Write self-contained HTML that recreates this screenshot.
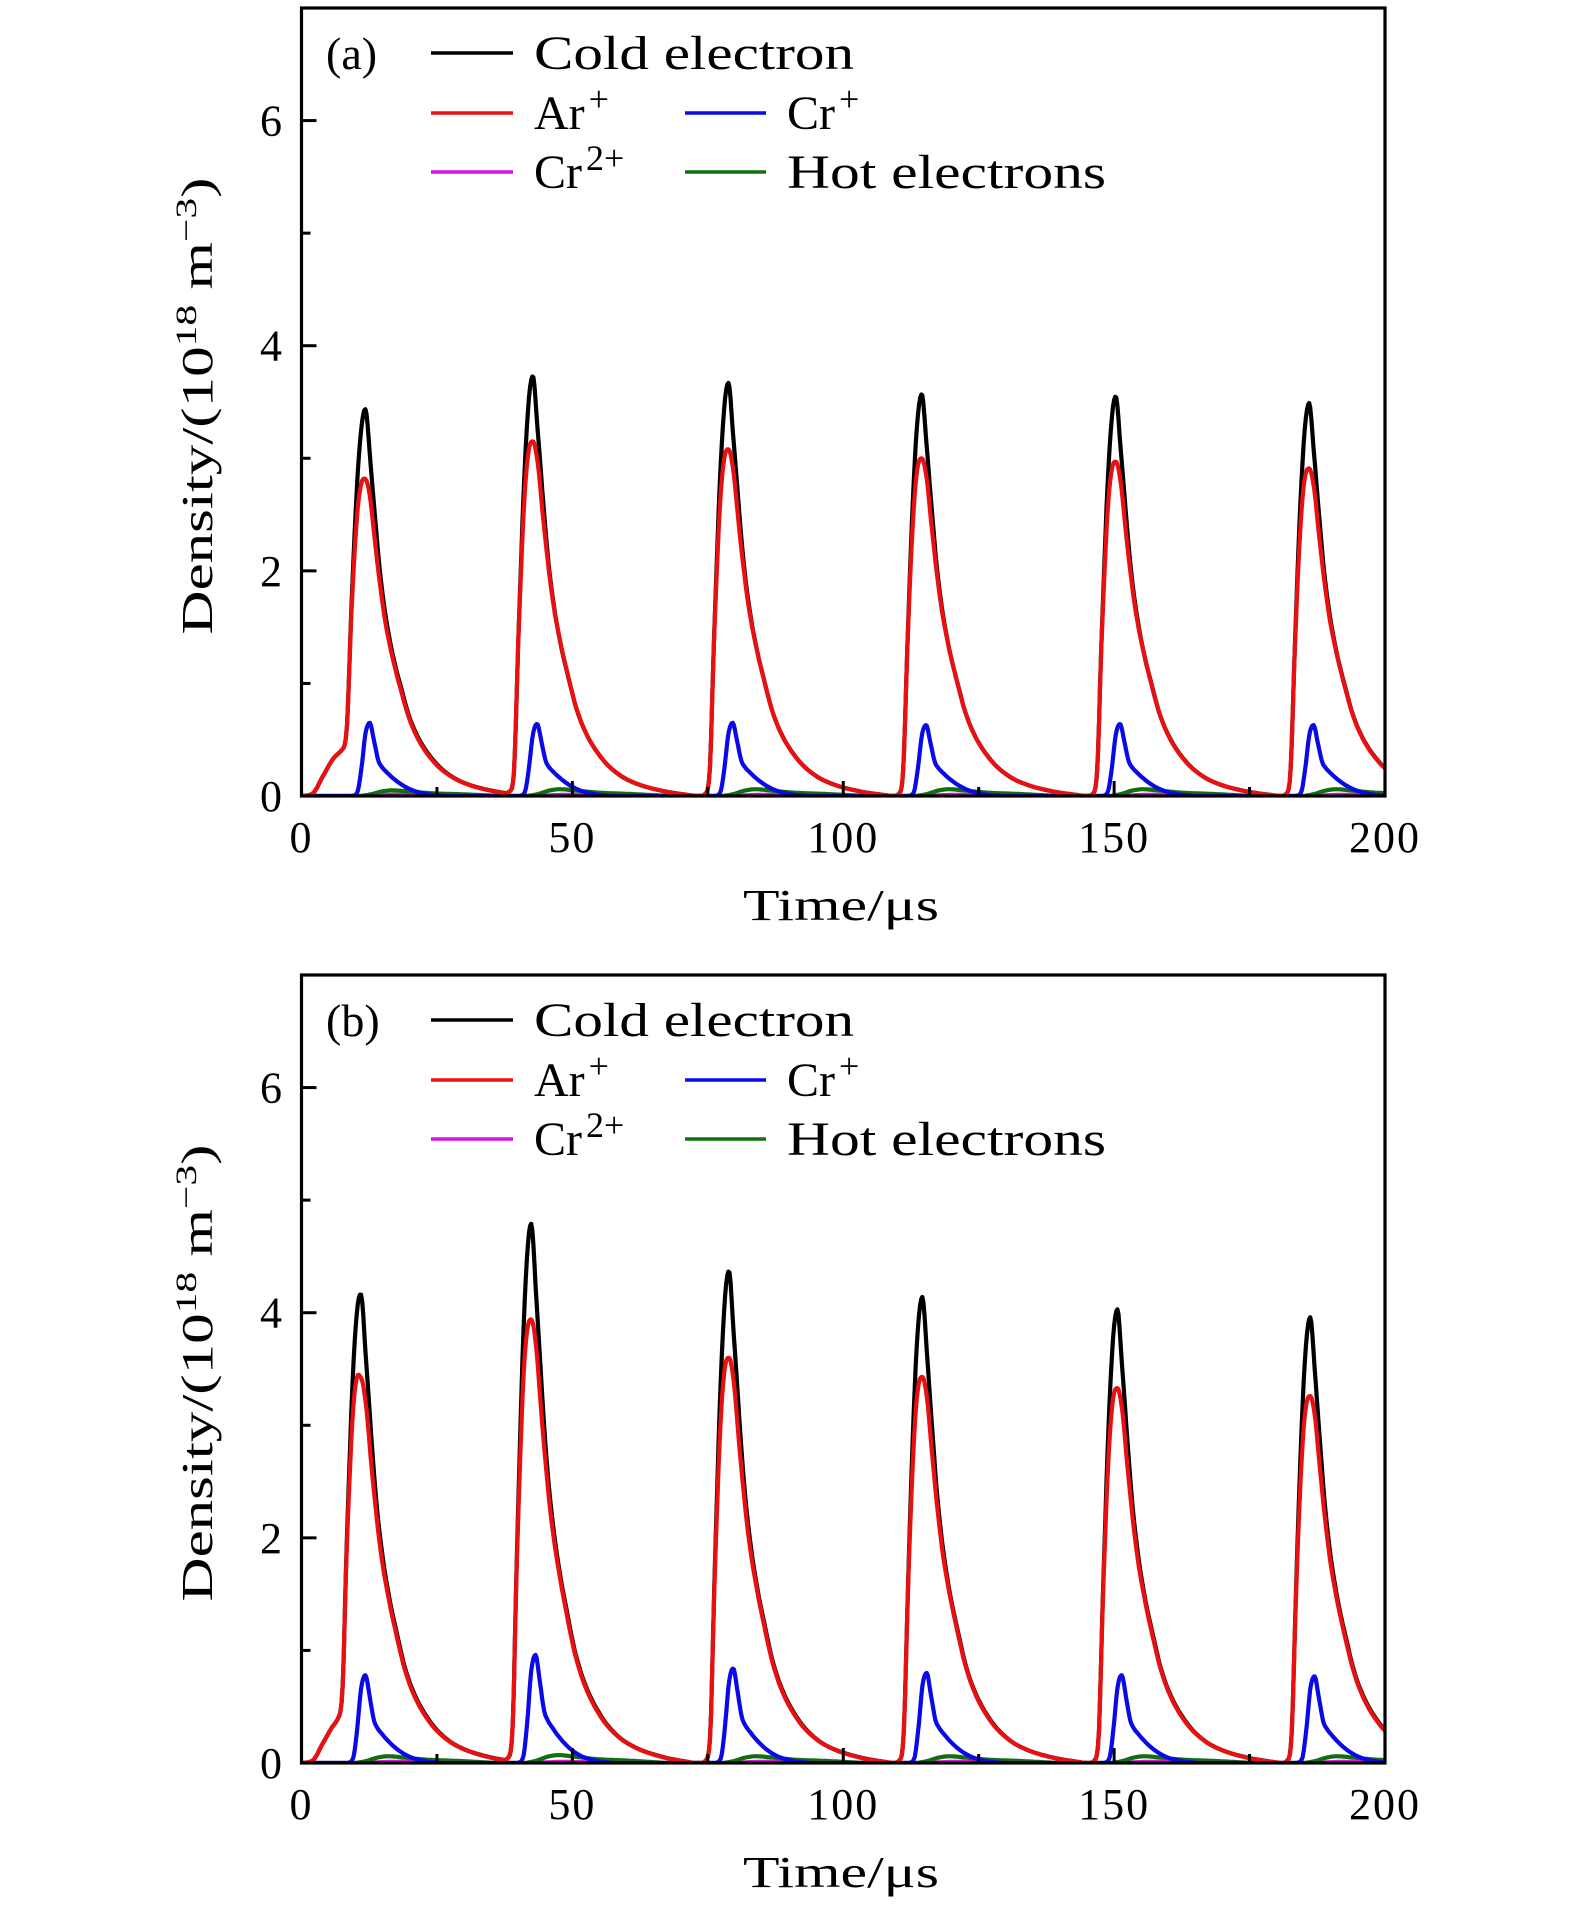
<!DOCTYPE html>
<html><head><meta charset="utf-8"><style>
html,body{margin:0;padding:0;background:#fff;}
svg{display:block;}
text{font-family:"Liberation Serif",serif;fill:#000;}
</style></head><body>
<svg id="fig" width="1575" height="1909" viewBox="0 0 1575 1909" xmlns="http://www.w3.org/2000/svg"></svg>
<script>
// ---- data ----
const xTicks = [0, 50, 100, 150, 200];
const yTicks = [0, 2, 4, 6];
// panel (a)
const peakTimesA = [11.8, 42.7, 78.8, 114.5, 150.3, 186.0];
const coldPeaksA = [3.42, 3.73, 3.67, 3.57, 3.55, 3.49];
const arPeaksA = [2.80, 3.15, 3.08, 3.00, 2.97, 2.91];
const crPeaksA = [0.65, 0.64, 0.65, 0.63, 0.64, 0.63];
const hotPeaksA = [0.05, 0.06, 0.06, 0.06, 0.06, 0.06];
const cr2PeaksA = [0.01, 0.01, 0.01, 0.01, 0.01, 0.01];
// panel (b)
const peakTimesB = [11.0, 42.4, 78.9, 114.6, 150.6, 186.2];
const coldPeaksB = [4.11, 4.79, 4.37, 4.14, 4.03, 3.96];
const arPeaksB = [3.37, 3.94, 3.60, 3.43, 3.33, 3.26];
const crPeaksB = [0.78, 0.96, 0.84, 0.80, 0.78, 0.77];
const hotPeaksB = [0.06, 0.07, 0.06, 0.06, 0.06, 0.06];
const cr2PeaksB = [0.01, 0.01, 0.01, 0.01, 0.01, 0.01];
// normalized pulse shapes (offset from peak time, in µs)
const coldOffsets = [-5,-4.3,-3.5,-2.6,-1.5,-0.7,0,0.9,1.8,2.7,3.7,5,6.8,8,9.8,12.9,16,19,24,30];
const coldShape   = [0,0.005,0.05,0.4,0.78,0.95,1,0.87,0.72,0.58,0.47,0.37,0.27,0.21,0.15,0.087,0.05,0.03,0.012,0];
const arShape     = [0,0.006,0.06,0.47,0.85,0.98,1,0.94,0.8,0.67,0.55,0.44,0.32,0.25,0.178,0.103,0.06,0.036,0.014,0];
const crOffsets = [-2.5,-1.5,-0.7,0,0.8,1.6,2.4,3,4,5,6.8,9,12,15];
const crShape   = [0,0.05,0.4,0.85,1,0.75,0.48,0.4,0.32,0.25,0.15,0.07,0.02,0];
const hotOffsets = [-1,1,3,5,8,12,18,25];
const hotShape   = [0,0.3,0.8,1,0.8,0.5,0.3,0];
const cr2Offsets = [0,3,6,12,20];
const cr2Shape   = [0,0.6,1,0.5,0];
// initial start-up ramp (first pulse of each panel)
const startTimes = [0,2,4,6,8,9.5,11,13];
const startVals  = [0,0.02,0.18,0.34,0.4,0.25,0.05,0];

// ---- drawing ----
const NS = "http://www.w3.org/2000/svg";
const svg = document.getElementById('fig');
function mk(tag, attrs, parent){
  const e = document.createElementNS(NS, tag);
  for (const k in attrs) e.setAttribute(k, attrs[k]);
  (parent||svg).appendChild(e); return e;
}
// monotone cubic (Fritsch–Carlson)
function interp(xs, ys, x){
  const n = xs.length;
  if (x <= xs[0] || x >= xs[n-1]) return 0;
  const d = [], m = [];
  for (let i=0;i<n-1;i++) d.push((ys[i+1]-ys[i])/(xs[i+1]-xs[i]));
  m[0]=d[0]; m[n-1]=d[n-2];
  for (let i=1;i<n-1;i++) m[i] = (d[i-1]*d[i] <= 0) ? 0 : (d[i-1]+d[i])/2;
  for (let i=0;i<n-1;i++){
    if (d[i]===0){ m[i]=0; m[i+1]=0; continue; }
    const a=m[i]/d[i], b=m[i+1]/d[i], s=a*a+b*b;
    if (s>9){ const t=3/Math.sqrt(s); m[i]=t*a*d[i]; m[i+1]=t*b*d[i]; }
  }
  let i=0; while (x > xs[i+1]) i++;
  const h = xs[i+1]-xs[i], u=(x-xs[i])/h;
  const h00=2*u*u*u-3*u*u+1, h10=u*u*u-2*u*u+u, h01=-2*u*u*u+3*u*u, h11=u*u*u-u*u;
  return h00*ys[i]+h10*h*m[i]+h01*ys[i+1]+h11*h*m[i+1];
}
function seriesVal(t, times, peaks, offs, shape, withStart){
  let v = 0;
  for (let i=0;i<times.length;i++) v += peaks[i]*interp(offs, shape, t-times[i]);
  if (withStart) v += interp(startTimes, startVals, t);
  return Math.max(v, 0);
}

const X0 = 301.5, X1 = 1385;
function makePanel(key, top, label, times, cold, ar, cr, hot, cr2){
  const bottom = top + 788;
  const xs = t => X0 + (t/200)*(X1-X0);
  const ys = v => bottom - (v/7)*(bottom-top);
  const g = mk('g', {});
  
  
  const defs = mk('clipPath', {id:'clip'+key}, g);
  mk('rect', {x:X0, y:top, width:X1-X0, height:bottom-top}, defs);
  const lines = mk('g', {'clip-path':'url(#clip'+key+')'}, g);
  
  
  const specs = [
    ['cr2-line', cr2, cr2Offsets, cr2Shape, '#e010e0', false],
    ['hot-electrons-line', hot, hotOffsets, hotShape, '#107010', false],
    ['cr-plus-line', cr, crOffsets, crShape, '#0a0ae8', false],
    ['cold-electron-line', cold, coldOffsets, coldShape, '#000', true],
    ['ar-plus-line', ar, coldOffsets, arShape, '#e81010', true]
  ];
  for (const s of specs){
    let d='';
    for (let t=0;t<=200.001;t+=0.2){
      const v = seriesVal(t, times, s[1], s[2], s[3], s[5]);
      d += (d?'L':'M') + xs(t).toFixed(1) + ',' + ys(v).toFixed(1);
    }
    const p = mk('path', {d:d, fill:'none', stroke:s[4], 'stroke-width':4.2, 'stroke-linejoin':'round'}, lines);
    
    
  }
  const fr = mk('rect', {x:X0, y:top, width:X1-X0, height:bottom-top, fill:'none', stroke:'#000', 'stroke-width':3.2}, g);
  
  
  for (let v=0; v<=7; v++){
    const major = v%2===0;
    mk('line', {x1:X0, x2:X0+(major?15:9), y1:ys(v), y2:ys(v), stroke:'#000', 'stroke-width':3}, g);
  }
  for (const v of yTicks){
    const tx = mk('text', {x:282, y:ys(v)+15, 'font-size':44, 'text-anchor':'end'}, g);
    tx.textContent = v;
    
    
  }
  for (let t=0; t<=200; t+=25){
    const major = t%50===0;
    mk('line', {x1:xs(t), x2:xs(t), y1:bottom, y2:bottom-(major?15:9), stroke:'#000', 'stroke-width':3}, g);
  }
  for (const t of xTicks){
    const tx = mk('text', {x:xs(t), y:bottom+56, 'font-size':44, 'text-anchor':'middle', 'letter-spacing':2}, g);
    tx.textContent = t;
    
    
  }
  const xt = mk('text', {x:841, y:bottom+124, 'font-size':44, 'text-anchor':'middle', textLength:196, lengthAdjust:'spacingAndGlyphs'}, g);
  xt.textContent = 'Time/μs';
  
  
  const cy = top + 398;
  const yt = mk('text', {x:0, y:0, 'font-size':44, 'text-anchor':'middle', transform:'translate(212,'+cy+') rotate(-90)', textLength:457, lengthAdjust:'spacingAndGlyphs'}, g);
  yt.innerHTML = 'Density/(10<tspan dy="-16" font-size="30">18</tspan><tspan dy="16"> m</tspan><tspan dy="-16" font-size="30">−3</tspan><tspan dy="16">)</tspan>';
  
  
  const pl = mk('text', {x:326, y:top+61, 'font-size':46}, g);
  pl.textContent = label;
  
  
  const leg = mk('g', {}, g);
  
  
  const entries = [
    [431, 513, top+45, '#000', 534, 'Cold electron', 320, null],
    [431, 513, top+105, '#e81010', 534, 'Ar', 0, '+'],
    [685, 766, top+105, '#0a0ae8', 787, 'Cr', 0, '+'],
    [431, 513, top+164, '#e010e0', 534, 'Cr', 0, '2+'],
    [685, 766, top+164, '#107010', 787, 'Hot electrons', 319, null]
  ];
  for (const e of entries){
    const eg = mk('g', {}, leg);
    
    
    mk('line', {x1:e[0], x2:e[1], y1:e[2], y2:e[2], stroke:e[3], 'stroke-width':3.5}, eg);
    const a = {x:e[4], y:e[2]+16, 'font-size':48};
    if (e[6]) { a.textLength = e[6]; a.lengthAdjust = 'spacingAndGlyphs'; }
    const tx = mk('text', a, eg);
    if (e[7]) tx.innerHTML = e[5] + '<tspan dx="4" dy="-18" font-size="36">' + e[7] + '</tspan>';
    else tx.textContent = e[5];
  }
}
makePanel('a', 8, '(a)', peakTimesA, coldPeaksA, arPeaksA, crPeaksA, hotPeaksA, cr2PeaksA);
makePanel('b', 975, '(b)', peakTimesB, coldPeaksB, arPeaksB, crPeaksB, hotPeaksB, cr2PeaksB);
</script>
</body></html>
